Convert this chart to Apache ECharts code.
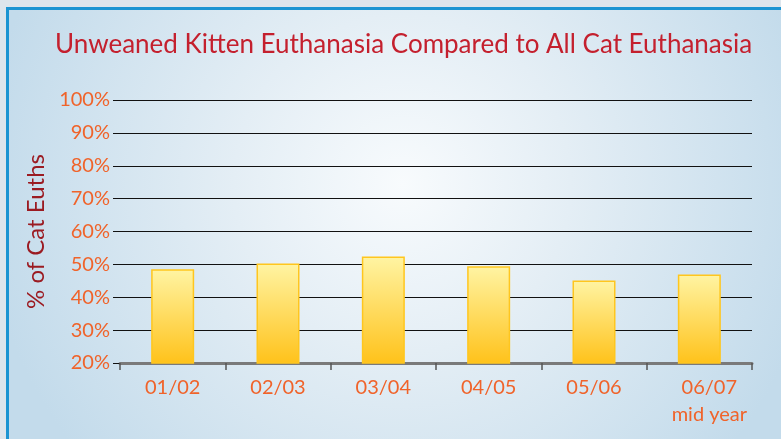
<!DOCTYPE html>
<html lang="en">
<head>
    <meta charset="utf-8">
    <title>Unweaned Kitten Euthanasia</title>
    <style>
        html,body,#myChart{
            height: 100%;
            width: 100%;
            padding: 0;
            margin: 0;
            background: #dde5ec;
        }
    </style>
</head>
<body>
    <div id="myChart"></div>
    <script src="https://cdn.jsdelivr.net/npm/echarts@6/dist/echarts.min.js"></script>
    <script>
        // data
        let years = ['01/02', '02/03', '03/04', '04/05', '05/06', '06/07\nmid year']
        let euthPct = [48.5, 50.3, 52.4, 49.4, 45.1, 46.9]
        let yMin = 20
        let yMax = 100
        let yStep = 10

        let font = 'Lato'
        let orange = '#f0632a'

        let myChart = echarts.init(document.getElementById('myChart'))

        let option = {
            backgroundColor: '#dde5ec',
            graphic: {
                elements: [{
                    type: 'rect',
                    z: -10,
                    silent: true,
                    shape: { x: 7.5, y: 8.5, width: 790, height: 440 },
                    style: {
                        fill: {
                            type: 'radial', x: 0.5, y: 0.4, r: 0.95,
                            colorStops: [
                                { offset: 0, color: '#f8fbfd' },
                                { offset: 0.4, color: '#e4eef5' },
                                { offset: 1, color: '#c3dbeb' }
                            ]
                        },
                        stroke: '#1c94d2',
                        lineWidth: 3
                    }
                }]
            },
            title: {
                text: 'Unweaned Kitten Euthanasia Compared to All Cat Euthanasia',
                left: 50,
                top: 27,
                textStyle: {
                    fontFamily: font,
                    fontSize: 26,
                    fontWeight: 'normal',
                    color: '#c4202e'
                }
            },
            grid: { left: 120, right: 29, top: 100, bottom: 76 },
            xAxis: {
                type: 'category',
                data: years,
                axisLine: { lineStyle: { color: '#7a7a7a', width: 3 } },
                axisTick: { show: true, interval: 0, length: 7, lineStyle: { color: '#555', width: 1.5 } },
                axisLabel: {
                    interval: 0,
                    hideOverlap: false,
                    margin: 11,
                    fontFamily: font,
                    fontSize: 20,
                    lineHeight: 27,
                    color: orange,
                    formatter: function (v) {
                        let parts = v.split('\n')
                        // last label sits a little right of its slot
                        if (parts.length > 1) return '{s|' + parts[0] + '}\n{s|' + parts[1] + '}'
                        return v
                    },
                    rich: {
                        s: { fontFamily: font, fontSize: 20, lineHeight: 27, color: orange, padding: [0, 0, 0, 20] }
                    }
                }
            },
            yAxis: {
                type: 'value',
                min: yMin,
                max: yMax,
                interval: yStep,
                name: '% of Cat Euths',
                nameLocation: 'middle',
                nameRotate: 90,
                nameGap: 70,
                nameTextStyle: {
                    fontFamily: font,
                    fontSize: 24,
                    color: '#9b1b22'
                },
                axisLine: { show: false },
                axisTick: { show: true, length: 7, lineStyle: { color: '#111' } },
                axisLabel: {
                    margin: 10,
                    formatter: '{value}%',
                    fontFamily: font,
                    fontSize: 20,
                    color: orange
                },
                splitLine: { lineStyle: { color: '#111', width: 1 } }
            },
            series: [{
                type: 'bar',
                data: euthPct,
                barWidth: 43,
                itemStyle: {
                    color: new echarts.graphic.LinearGradient(0, 0, 0, 1, [
                        { offset: 0, color: '#fff4a3' },
                        { offset: 1, color: '#ffc21a' }
                    ]),
                    borderColor: '#ffc61e',
                    borderWidth: 1.5
                }
            }]
        }

        myChart.setOption(option)
    </script>
</body>
</html>
